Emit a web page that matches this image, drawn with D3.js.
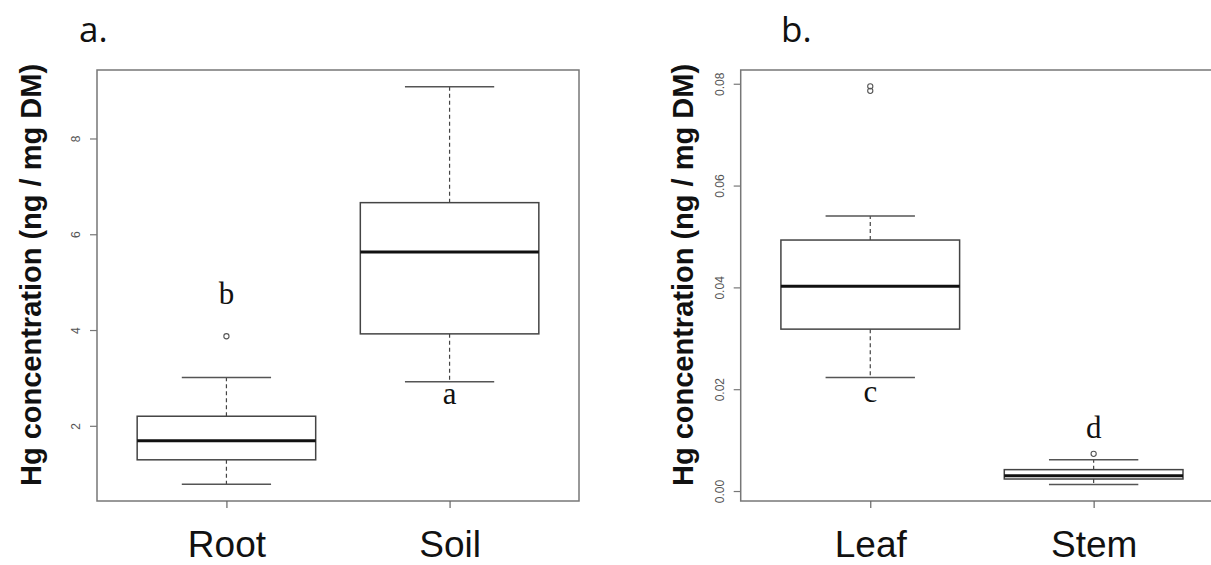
<!DOCTYPE html>
<html>
<head>
<meta charset="utf-8">
<script src="https://cdn.jsdelivr.net/npm/d3@7"></script>
<style>
  html, body { margin: 0; padding: 0; background: #fff; }
  svg { display: block; }
</style>
</head>
<body>
<svg id="chart" width="1211" height="565"></svg>
<script>
// ---- Data ----
const panelLabels = ["a.", "b."];
const categoriesA = ["Root", "Soil"];
const categoriesB = ["Leaf", "Stem"];
// [lowerWhisker, Q1, median, Q3, upperWhisker]
const statsA = [
  [0.78, 1.29, 1.69, 2.20, 3.01],
  [2.92, 3.92, 5.63, 6.66, 9.08]
];
const statsB = [
  [0.0223, 0.0318, 0.0402, 0.0493, 0.0540],
  [0.0013, 0.00236, 0.0030, 0.0042, 0.00615]
];
const outliersA = [[3.87], []];
const outliersB = [[0.0795, 0.0786], [0.0073]];
const ticksA = [2, 4, 6, 8];
const ticksB = [0.00, 0.02, 0.04, 0.06, 0.08];
const tickLabelsB = ["0.00", "0.02", "0.04", "0.06", "0.08"];
const lettersA = [{ cat: 0, value: 4.55, text: "b" }, { cat: 1, value: 2.45, text: "a" }];
const lettersB = [{ cat: 0, value: 0.0175, text: "c" }, { cat: 1, value: 0.0105, text: "d" }];
const yTitle = "Hg concentration (ng / mg DM)";

const svg = d3.select("#chart");
svg.append("rect").attr("width", 1211).attr("height", 565).attr("fill", "#fff");

function panel(cfg) {
  const g = svg.append("g");
  const x = d3.scaleLinear().domain([0.42, 2.58]).range([cfg.left, cfg.right]);
  const y = d3.scaleLinear().domain(cfg.ydomain).range([501, 70]);

  // frame
  g.append("rect")
    .attr("x", cfg.left).attr("y", 70)
    .attr("width", cfg.right - cfg.left).attr("height", 431)
    .attr("fill", "none").attr("stroke", "#777").attr("stroke-width", 1.5);

  // y axis
  const yAxis = d3.axisLeft(y).tickValues(cfg.ticks).tickSize(7).tickPadding(4)
    .tickFormat((d, i) => cfg.tickLabels[i]);
  const ya = g.append("g").attr("transform", `translate(${cfg.left},0)`).call(yAxis);
  ya.select(".domain").remove();
  ya.selectAll(".tick line").attr("stroke", "#777").attr("stroke-width", 1.2);
  ya.selectAll(".tick text")
    .attr("font-family", "Liberation Sans, Arial, sans-serif")
    .attr("font-size", 12).attr("fill", "#555")
    .attr("text-anchor", "middle")
    .attr("x", null).attr("dy", null)
    .attr("transform", "translate(-17,0) rotate(-90)");

  // x axis
  const xAxis = d3.axisBottom(x).tickValues([1, 2]).tickSize(7)
    .tickFormat((d, i) => cfg.cats[i]);
  const xa = g.append("g").attr("transform", "translate(0,501)").call(xAxis);
  xa.select(".domain").remove();
  xa.selectAll(".tick line").attr("stroke", "#666").attr("stroke-width", 1.2);
  xa.selectAll(".tick text")
    .attr("font-family", "Liberation Sans, Arial, sans-serif")
    .attr("font-size", 37).attr("fill", "#111")
    .attr("dy", null).attr("y", 56);

  // boxes
  cfg.stats.forEach((s, i) => {
    const cx = x(i + 1);
    const hw = x(1.4) - x(1);
    const cw = x(1.2) - x(1);
    const [lw, q1, med, q3, uw] = s;
    // whiskers
    g.append("line").attr("x1", cx).attr("x2", cx).attr("y1", y(q3)).attr("y2", y(uw))
      .attr("stroke", "#444").attr("stroke-width", 1.2).attr("stroke-dasharray", "4,3");
    g.append("line").attr("x1", cx).attr("x2", cx).attr("y1", y(q1)).attr("y2", y(lw))
      .attr("stroke", "#444").attr("stroke-width", 1.2).attr("stroke-dasharray", "4,3");
    // caps
    [lw, uw].forEach(v => {
      g.append("line").attr("x1", cx - cw).attr("x2", cx + cw).attr("y1", y(v)).attr("y2", y(v))
        .attr("stroke", "#555").attr("stroke-width", 1.5);
    });
    // box
    g.append("rect").attr("x", cx - hw).attr("y", y(q3))
      .attr("width", 2 * hw).attr("height", y(q1) - y(q3))
      .attr("fill", "#fff").attr("stroke", "#444").attr("stroke-width", 1.5);
    // median
    g.append("line").attr("x1", cx - hw).attr("x2", cx + hw).attr("y1", y(med)).attr("y2", y(med))
      .attr("stroke", "#111").attr("stroke-width", 3);
    // outliers
    cfg.outliers[i].forEach(v => {
      g.append("circle").attr("cx", cx).attr("cy", y(v)).attr("r", 2.6)
        .attr("fill", "none").attr("stroke", "#555").attr("stroke-width", 1.1);
    });
  });

  // significance letters
  cfg.letters.forEach(l => {
    g.append("text").attr("x", x(l.cat + 1)).attr("y", y(l.value))
      .attr("text-anchor", "middle")
      .attr("font-family", "Liberation Serif, Times New Roman, serif")
      .attr("font-size", 31).attr("fill", "#111").text(l.text);
  });

  // y title
  g.append("text")
    .attr("transform", `translate(${cfg.titleX},275) rotate(-90)`)
    .attr("text-anchor", "middle")
    .attr("font-family", "Liberation Sans, Arial, sans-serif")
    .attr("font-weight", "bold").attr("font-size", 29).attr("fill", "#111")
    .text(yTitle);

  // panel label
  g.append("text").attr("x", cfg.labelX).attr("y", 42)
    .attr("font-family", "Open Sans, Liberation Sans, sans-serif")
    .attr("font-size", 35).attr("fill", "#111").text(cfg.label);
}

panel({
  left: 97, right: 579, ydomain: [0.43, 9.43],
  ticks: ticksA, tickLabels: ticksA.map(String), cats: categoriesA,
  stats: statsA, outliers: outliersA, letters: lettersA,
  titleX: 41, label: panelLabels[0], labelX: 79
});
panel({
  left: 740.7, right: 1223.2, ydomain: [-0.00196, 0.0827],
  ticks: ticksB, tickLabels: tickLabelsB, cats: categoriesB,
  stats: statsB, outliers: outliersB, letters: lettersB,
  titleX: 693, label: panelLabels[1], labelX: 781
});
</script>
</body>
</html>
